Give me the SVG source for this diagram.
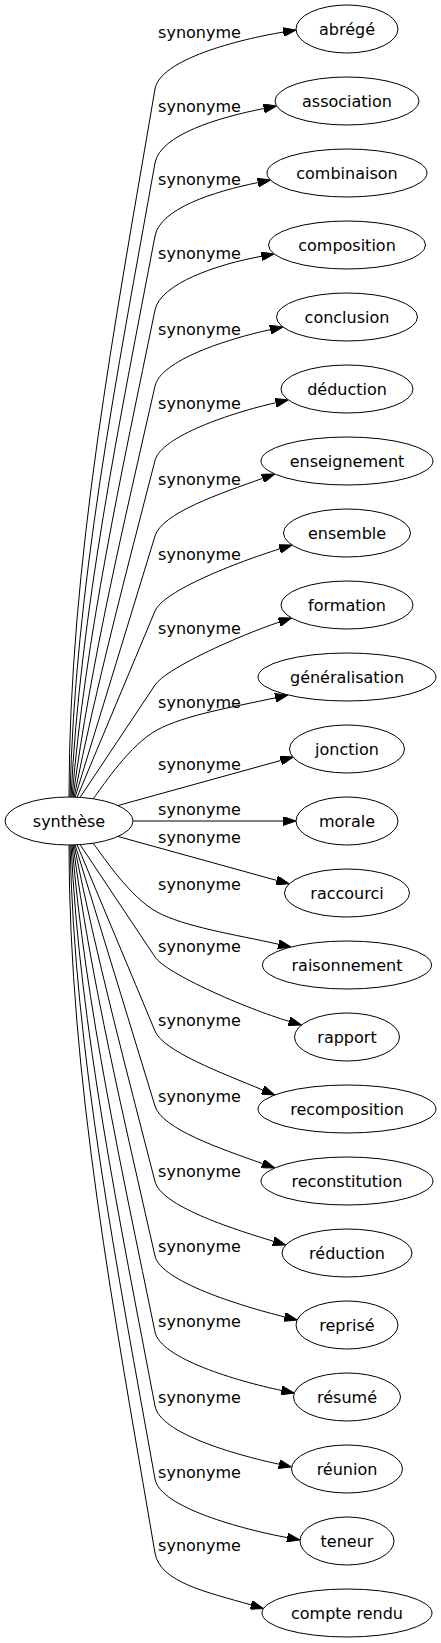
<svg xmlns="http://www.w3.org/2000/svg" width="441" height="1643" viewBox="0 0 441 1643">
<style>
.e{fill:none;stroke:#000;stroke-width:1;marker-end:url(#ah)}
.n{fill:#fff;stroke:#000;stroke-width:1}
text{font-family:"DejaVu Sans","Liberation Sans",sans-serif;font-size:16px;fill:#000;text-anchor:middle}
</style>
<defs>
<marker id="ah" markerUnits="userSpaceOnUse" viewBox="0 0 13 9" refX="0" refY="4.5" markerWidth="13" markerHeight="9" orient="auto">
<path d="M0,0 L13,4.5 L0,9 z" fill="#000" stroke="#000" stroke-width="1"/>
</marker>
</defs>
<rect width="441" height="1643" fill="#fff"/>
<g id="edges">
<path class="e" d="M69,797.5 C69,563.7 115.3,322.8 155,89 C160,59.4 238.8,39.4 283.2,32.1"/>
<path class="e" d="M70,797.5 C74.5,588.1 117.6,372.4 155,163 C160.1,134.5 219.7,117.2 263.9,108.5"/>
<path class="e" d="M71,797.5 C80,612.2 119.8,421.3 155,236 C160.2,208.5 213.7,191.6 257.8,182.6"/>
<path class="e" d="M72,797.5 C85.4,636.6 122,470.9 155,310 C160.4,283.6 217.1,264.3 261.4,256.3"/>
<path class="e" d="M73,797.5 C90.9,661.7 124.3,521.8 155,386 C160.7,360.6 226.2,339.2 270.2,329.7"/>
<path class="e" d="M74,797.5 C96.1,686.3 126.4,571.7 155,460.5 C161.2,436.3 231.7,412.6 275.6,402.8"/>
<path class="e" d="M75,797.5 C101.4,711.2 128.6,622.3 155,536 C162,513 220.2,493.5 262.5,478.4"/>
<path class="e" d="M77,797.5 C102.7,736 129.3,672.5 155,611 C163.5,590.7 236.7,562.4 279.6,548.9"/>
<path class="e" d="M80,797.5 C104.75,760.4 130.25,722.1 155,685 C166.1,668.4 236.6,636.5 279.2,622.1"/>
<path class="e" d="M93,799 C105,783 130,745 157,730 C185,715 231,707.5 275.3,697.8"/>
<path class="e" d="M118,805.5 L280.7,760.5"/>
<path class="e" d="M133,821 L283,821"/>
<path class="e" d="M118,836.5 L276.7,880.4"/>
<path class="e" d="M93,843 C105,859 130,897 157,912 C185,927 234.5,934.4 278.4,944.2"/>
<path class="e" d="M80,844.5 C104.75,881.6 130.25,919.9 155,957 C166.1,973.6 245.8,1008.5 289,1021.3"/>
<path class="e" d="M77,844.5 C102.7,906 129.3,969.5 155,1031 C163.5,1051.3 221.2,1072.7 262.7,1090"/>
<path class="e" d="M75,844.5 C101.4,930.8 128.6,1019.7 155,1106 C162,1129 220.2,1148.5 262.5,1163.6"/>
<path class="e" d="M74,844.5 C96.1,955.7 126.4,1070.3 155,1181.5 C161.2,1205.7 230.2,1228.2 273.3,1241.2"/>
<path class="e" d="M73,844.5 C90.9,980.3 124.3,1120.2 155,1256 C160.7,1281.4 240.8,1306 284.5,1316.9"/>
<path class="e" d="M72,844.5 C85.4,1005.4 122,1171.1 155,1332 C160.4,1358.4 237.4,1381.3 281.5,1390.4"/>
<path class="e" d="M71,844.5 C80,1029.8 119.8,1220.7 155,1406 C160.2,1433.5 235,1454.7 279,1464.2"/>
<path class="e" d="M70,844.5 C74.5,1053.9 117.6,1269.6 155,1479 C160.1,1507.5 243,1529.4 287.2,1537.6"/>
<path class="e" d="M69,844.5 C69,1078.3 115.3,1319.2 155,1553 C160,1582.6 207.8,1592.3 251,1604.9"/>
<g id="edge-labels">
<text x="199.5" y="37.5">synonyme</text>
<text x="199.5" y="111.5">synonyme</text>
<text x="199.5" y="184.5">synonyme</text>
<text x="199.5" y="258.5">synonyme</text>
<text x="199.5" y="334.5">synonyme</text>
<text x="199.5" y="409">synonyme</text>
<text x="199.5" y="484.5">synonyme</text>
<text x="199.5" y="559.5">synonyme</text>
<text x="199.5" y="633.5">synonyme</text>
<text x="199.5" y="707.5">synonyme</text>
<text x="199.5" y="769.5">synonyme</text>
<text x="199.5" y="815">synonyme</text>
<text x="199.5" y="842.5">synonyme</text>
<text x="199.5" y="889.5">synonyme</text>
<text x="199.5" y="951.5">synonyme</text>
<text x="199.5" y="1025.5">synonyme</text>
<text x="199.5" y="1101.5">synonyme</text>
<text x="199.5" y="1176.5">synonyme</text>
<text x="199.5" y="1251.5">synonyme</text>
<text x="199.5" y="1326.5">synonyme</text>
<text x="199.5" y="1402.5">synonyme</text>
<text x="199.5" y="1477.5">synonyme</text>
<text x="199.5" y="1550.5">synonyme</text>
</g>
</g>
<g id="synthese"><ellipse class="n" cx="69" cy="821" rx="64" ry="24"/><text x="69" y="826.5">synthèse</text></g>
<g id="abrege"><ellipse class="n" cx="347" cy="29" rx="51" ry="24"/><text x="347" y="34.5">abrégé</text></g>
<g id="association"><ellipse class="n" cx="347" cy="101" rx="72" ry="24"/><text x="347" y="106.5">association</text></g>
<g id="combinaison"><ellipse class="n" cx="347" cy="173" rx="80" ry="24"/><text x="347" y="178.5">combinaison</text></g>
<g id="composition"><ellipse class="n" cx="347" cy="245" rx="78.5" ry="24"/><text x="347" y="250.5">composition</text></g>
<g id="conclusion"><ellipse class="n" cx="347" cy="317" rx="70.5" ry="24"/><text x="347" y="322.5">conclusion</text></g>
<g id="deduction"><ellipse class="n" cx="347" cy="389" rx="66" ry="24"/><text x="347" y="394.5">déduction</text></g>
<g id="enseignement"><ellipse class="n" cx="347" cy="461" rx="86" ry="24"/><text x="347" y="466.5">enseignement</text></g>
<g id="ensemble"><ellipse class="n" cx="347" cy="533" rx="63.5" ry="24"/><text x="347" y="538.5">ensemble</text></g>
<g id="formation"><ellipse class="n" cx="347" cy="605" rx="66" ry="24"/><text x="347" y="610.5">formation</text></g>
<g id="generalisation"><ellipse class="n" cx="347" cy="677" rx="89" ry="24"/><text x="347" y="682.5">généralisation</text></g>
<g id="jonction"><ellipse class="n" cx="347" cy="749" rx="57.5" ry="24"/><text x="347" y="754.5">jonction</text></g>
<g id="morale"><ellipse class="n" cx="347" cy="821" rx="51" ry="24"/><text x="347" y="826.5">morale</text></g>
<g id="raccourci"><ellipse class="n" cx="347" cy="893" rx="62.5" ry="24"/><text x="347" y="898.5">raccourci</text></g>
<g id="raisonnement"><ellipse class="n" cx="347" cy="965" rx="84.5" ry="24"/><text x="347" y="970.5">raisonnement</text></g>
<g id="rapport"><ellipse class="n" cx="347" cy="1037" rx="52.5" ry="24"/><text x="347" y="1042.5">rapport</text></g>
<g id="recomposition"><ellipse class="n" cx="347" cy="1109" rx="89" ry="24"/><text x="347" y="1114.5">recomposition</text></g>
<g id="reconstitution"><ellipse class="n" cx="347" cy="1181" rx="86" ry="24"/><text x="347" y="1186.5">reconstitution</text></g>
<g id="reduction"><ellipse class="n" cx="347" cy="1253" rx="65" ry="24"/><text x="347" y="1258.5">réduction</text></g>
<g id="reprise"><ellipse class="n" cx="347" cy="1325" rx="51" ry="24"/><text x="347" y="1330.5">reprisé</text></g>
<g id="resume"><ellipse class="n" cx="347" cy="1397" rx="53.5" ry="24"/><text x="347" y="1402.5">résumé</text></g>
<g id="reunion"><ellipse class="n" cx="347" cy="1469" rx="55.5" ry="24"/><text x="347" y="1474.5">réunion</text></g>
<g id="teneur"><ellipse class="n" cx="347" cy="1541" rx="47" ry="24"/><text x="347" y="1546.5">teneur</text></g>
<g id="compte-rendu"><ellipse class="n" cx="347" cy="1613" rx="85" ry="24"/><text x="347" y="1618.5">compte rendu</text></g>
</svg>
